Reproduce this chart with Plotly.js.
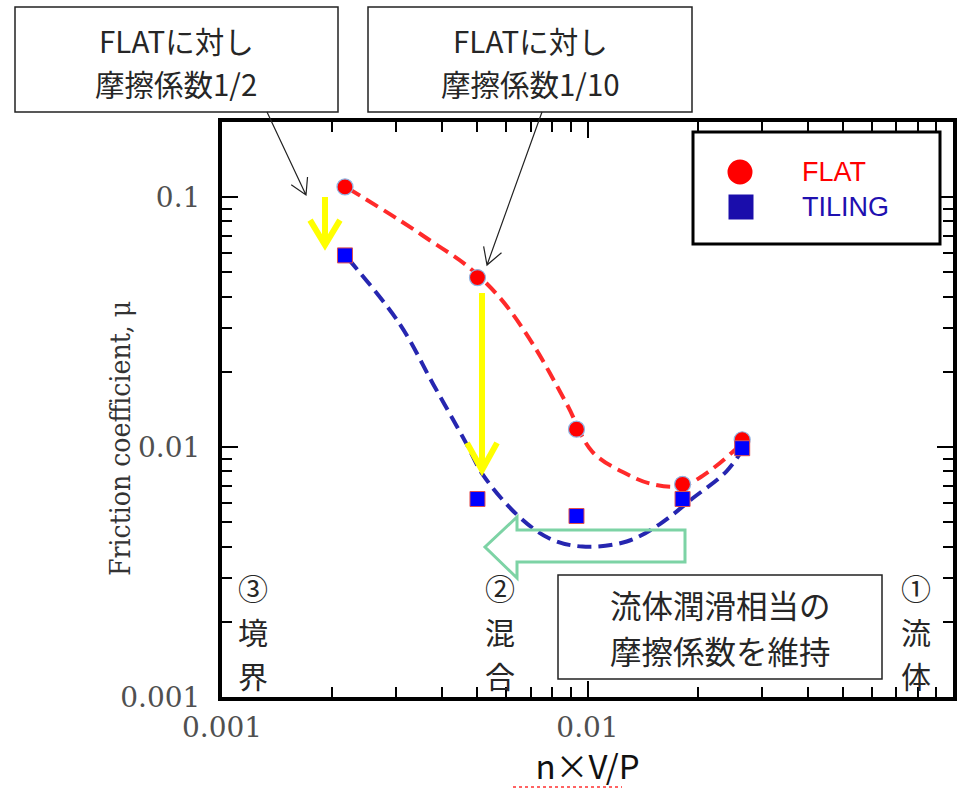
<!DOCTYPE html>
<html><head><meta charset="utf-8">
<script src="https://cdn.plot.ly/plotly-3.0.1.min.js"></script>
<style>html,body{margin:0;padding:0;background:#fff}</style>
</head><body>
<div id="chart" style="width:973px;height:789px"></div>
<script>
// ---- data ----
const nVP = [0.00217, 0.0050, 0.00933, 0.0182, 0.0265];
const muFlat = [0.110, 0.0477, 0.0118, 0.0071, 0.0107];
const muTiling = [0.0585, 0.0062, 0.0053, 0.0062, 0.0099];
const fitFlatX = [0.00221, 0.00306, 0.00378, 0.00467, 0.00575, 0.00708, 0.00877, 0.0103, 0.0128, 0.0151, 0.0182, 0.0215, 0.0266];
const fitFlatY = [0.1087, 0.0809, 0.0659, 0.0533, 0.0397, 0.0259, 0.0149, 0.0096, 0.0078, 0.0071, 0.0070, 0.0080, 0.0104];
const fitTilingX = [0.00221, 0.00306, 0.00378, 0.00467, 0.00516, 0.0064, 0.00787, 0.00968, 0.0128, 0.01574, 0.0194, 0.0240, 0.0272];
const fitTilingY = [0.0569, 0.0312, 0.0179, 0.01028, 0.0078, 0.00538, 0.00431, 0.0040, 0.00419, 0.00491, 0.00624, 0.0080, 0.0103];
const regimeBounds = [0.00461, 0.0206];
const seriesNames = ['FLAT', 'TILING'];
const xTickVals = [0.001, 0.01, 0.1];
const xTickText = ['0.001', '0.01', '0.1'];
const yTickVals = [0.001, 0.01, 0.1];
const yTickText = ['0.001', '0.01', '0.1'];
const xTitle = 'n×V/P';
const yTitle = 'Friction coefficient, μ';
const box1Lines = ['FLATに対し', '摩擦係数1/2'];
const box2Lines = ['FLATに対し', '摩擦係数1/10'];
const box3Lines = ['流体潤滑相当の', '摩擦係数を維持'];
const regime3 = ['③', '境', '界'];
const regime2 = ['②', '混', '合'];
const regime1 = ['①', '流', '体'];

// ---- layout helpers (pixel -> paper) ----
const L = 222, T = 122, W = 731, H = 575;
const PX = x => (x - L) / W;
const PY = y => (T + H - y) / H;
const P = p => PX(p[0]).toFixed(5) + ',' + PY(p[1]).toFixed(5);

function minorVals(maxV) {
  const out = [];
  [-3, -2, -1].forEach(d => { for (let k = 2; k <= 9; k++) { const v = k * Math.pow(10, d); if (v <= maxV * 1.0001) out.push(v); } });
  return out;
}
function arrowPath(tail, tip, len, ang) {
  const dx = tail[0] - tip[0], dy = tail[1] - tip[1], n = Math.hypot(dx, dy);
  const ux = dx / n, uy = dy / n, a = ang * Math.PI / 180;
  const r = s => [ux * Math.cos(s) - uy * Math.sin(s), ux * Math.sin(s) + uy * Math.cos(s)];
  const r1 = r(a), r2 = r(-a);
  const p1 = [tip[0] + len * r1[0], tip[1] + len * r1[1]];
  const p2 = [tip[0] + len * r2[0], tip[1] + len * r2[1]];
  return 'M' + P(tail) + ' L' + P(tip) + ' M' + P(p1) + ' L' + P(tip) + ' L' + P(p2);
}
function rect(x0, y0, x1, y1, lw, col, fill) {
  return {type: 'rect', xref: 'paper', yref: 'paper', x0: PX(x0), x1: PX(x1), y0: PY(y1), y1: PY(y0),
    line: {color: col, width: lw}, fillcolor: fill || 'rgba(0,0,0,0)'};
}
function txt(s, x, y, size, color, family, anchor) {
  return {text: s, xref: 'paper', yref: 'paper', x: PX(x), y: PY(y), showarrow: false,
    xanchor: anchor || 'center', yanchor: 'middle', align: 'center',
    font: {family: family || 'Noto Sans CJK JP', size: size, color: color || '#262626'}};
}

const cjk = 'Noto Sans CJK JP';
const serif = 'DejaVu Serif Condensed, DejaVu Serif';
const traces = [
  {x: fitFlatX, y: fitFlatY, mode: 'lines', line: {color: '#FF2A2A', width: 4, dash: '14px,7px', shape: 'spline', smoothing: 1}, hoverinfo: 'skip', showlegend: false},
  {x: fitTilingX, y: fitTilingY, mode: 'lines', line: {color: '#2626B0', width: 4, dash: '14px,7px', shape: 'spline', smoothing: 1}, hoverinfo: 'skip', showlegend: false},
  {x: nVP, y: muFlat, name: seriesNames[0], mode: 'markers', marker: {symbol: 'circle', size: 16, color: '#FF0000', line: {color: '#8FB4E3', width: 1.2}}, showlegend: false},
  {x: nVP, y: muTiling, name: seriesNames[1], mode: 'markers', marker: {symbol: 'square', size: 15, color: '#0000FF', line: {color: '#E05050', width: 1}}, showlegend: false}
];

const axisCommon = {
  type: 'log', ticks: 'inside', ticklen: 16, tickwidth: 2, tickcolor: '#000',
  showline: true, linewidth: 4, linecolor: '#000', mirror: 'ticks',
  showgrid: false, zeroline: false,
  tickfont: {family: 'DejaVu Serif', size: 28, color: '#505050'}
};

const shapes = [];
// legend box
shapes.push(rect(693, 132, 940, 244, 3, '#000', '#fff'));
shapes.push({type: 'circle', xref: 'paper', yref: 'paper', x0: PX(727.5), x1: PX(752.5), y0: PY(184.5), y1: PY(159.5), line: {width: 0}, fillcolor: '#FF0000'});
shapes.push({type: 'rect', xref: 'paper', yref: 'paper', x0: PX(728.5), x1: PX(753.5), y0: PY(219.5), y1: PY(194.5), line: {width: 0}, fillcolor: '#1A0DAB'});
// regime boundaries
regimeBounds.forEach(b => shapes.push({type: 'line', xref: 'x', yref: 'paper', x0: Math.log10(b), x1: Math.log10(b), y0: PY(702), y1: PY(115),
  line: {color: '#CC6A10', width: 2.5, dash: '12px,7px'}}));
// yellow arrows
shapes.push({type: 'path', xref: 'paper', yref: 'paper', path: arrowPath([325, 197], [325, 245], 29, 31), line: {color: '#FFFF00', width: 6}});
shapes.push({type: 'path', xref: 'paper', yref: 'paper', path: arrowPath([482, 293], [482, 470], 31, 29), line: {color: '#FFFF00', width: 6}});
// green hollow arrow
shapes.push({type: 'path', xref: 'paper', yref: 'paper',
  path: 'M' + P([685, 530]) + ' L' + P([517, 530]) + ' L' + P([517, 517]) + ' L' + P([485, 547]) + ' L' + P([517, 578]) + ' L' + P([517, 562]) + ' L' + P([685, 562]) + ' Z',
  line: {color: '#7DD3A5', width: 3}, fillcolor: 'rgba(0,0,0,0)'});
// callout boxes
shapes.push(rect(15, 7, 338, 112, 1.5, '#222', '#fff'));
shapes.push(rect(368, 7, 692, 112, 1.5, '#222', '#fff'));
shapes.push(rect(558, 575, 882, 679, 1.5, '#222', '#fff'));
// thin callout arrows
shapes.push({type: 'path', xref: 'paper', yref: 'paper', path: arrowPath([267, 112], [306, 195], 18, 30), line: {color: '#222', width: 1.2}});
shapes.push({type: 'path', xref: 'paper', yref: 'paper', path: arrowPath([542, 112], [487, 265], 19, 30), line: {color: '#222', width: 1.2}});
// red dotted underline under axis title
shapes.push({type: 'line', xref: 'paper', yref: 'paper', x0: PX(513), x1: PX(622), y0: PY(787), y1: PY(787), line: {color: '#FF3030', width: 1.5, dash: 'dot'}});

const ann = [];
ann.push(txt(box1Lines[0], 176, 40, 29.5));
ann.push(txt(box1Lines[1], 176, 83, 29.5));
ann.push(txt(box2Lines[0], 530, 40, 29.5));
ann.push(txt(box2Lines[1], 530, 83, 29.5));
ann.push(txt(box3Lines[0], 720, 604, 31.5));
ann.push(txt(box3Lines[1], 720, 650, 31.5));
[[regime3, 253], [regime2, 500], [regime1, 916]].forEach(([arr, x]) => {
  ann.push(txt(arr[0], x, 587, 30));
  ann.push(txt(arr[1], x, 631, 30));
  ann.push(txt(arr[2], x, 675, 30));
});
ann.push(txt(seriesNames[0], 800, 172, 27, '#FF0000', 'Liberation Sans', 'left'));
ann.push(txt(seriesNames[1], 800, 207, 27, '#1F10B0', 'Liberation Sans', 'left'));
const yt = txt(yTitle, 120, 439, 28, '#333', serif);
yt.textangle = -90;
ann.push(yt);

const layout = {
  width: 973, height: 789,
  margin: {l: L, r: 973 - L - W, t: T, b: 789 - T - H, pad: 0},
  paper_bgcolor: '#fff', plot_bgcolor: '#fff',
  showlegend: false,
  xaxis: Object.assign({}, axisCommon, {
    range: [-3, -1], tickvals: xTickVals, ticktext: xTickText, ticklabelstandoff: 2,
    minor: {tickvals: minorVals(0.1), ticks: 'inside', ticklen: 10, tickwidth: 2, tickcolor: '#000', showgrid: false},
    title: {text: xTitle, font: {family: cjk, size: 33, color: '#111'}, standoff: 20}
  }),
  yaxis: Object.assign({}, axisCommon, {
    range: [-3, Math.log10(0.2)], tickvals: yTickVals, ticktext: yTickText, ticklabelstandoff: 12,
    minor: {tickvals: minorVals(0.2), ticks: 'inside', ticklen: 10, tickwidth: 2, tickcolor: '#000', showgrid: false}
  }),
  shapes: shapes,
  annotations: ann
};

Plotly.newPlot('chart', traces, layout, {displayModeBar: false, staticPlot: true});
</script>
</body></html>
